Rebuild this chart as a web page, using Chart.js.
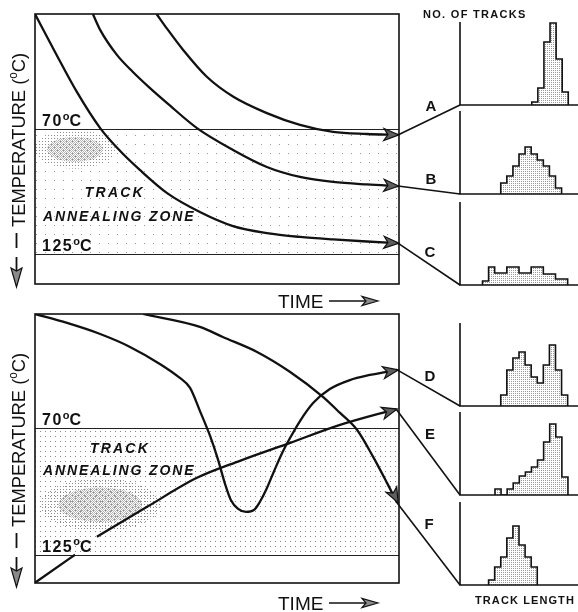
<!DOCTYPE html>
<html lang="en">
<head>
<meta charset="utf-8">
<title>Track annealing zone – thermal paths and track length distributions</title>
<script src="https://cdn.jsdelivr.net/npm/chart.js@4.4.1/dist/chart.umd.min.js"></script>
<style>
  html, body { margin: 0; padding: 0; background: #fff; }
  #fig { position: relative; width: 578px; height: 612px; overflow: hidden; background: #fff; }
  #fig canvas { position: absolute; }
</style>
</head>
<body>
<div id="fig"></div>
<script>
// ── data ───────────────────────────────────────────────────────────
// time runs 0..100 (arbitrary units), temperature in °C grows downwards

const zoneTemps = [70, 125];

// upper panel: three cooling paths, ending at histograms A, B, C
const pathA_time = [33.4, 36.2, 40.7, 47.2, 54.5, 63.7, 72.8, 81.9, 91.2, 99.7];
const pathA_temp = [19.4, 25.7, 35.2, 47.0, 55.8, 63.0, 68.2, 71.3, 72.2, 72.6];
const pathB_time = [15.9, 17.9, 22.5, 26.9, 31.6, 36.3, 44.5, 54.4, 63.7, 72.8, 81.9, 91.2, 99.7];
const pathB_temp = [19.4, 26.4, 37.4, 44.9, 52.0, 58.6, 69.6, 79.2, 86.7, 91.1, 93.3, 94.4, 95.1];
const pathC_time = [0, 5.5, 11.5, 17.9, 23.4, 28.8, 36.3, 45.3, 54.4, 63.7, 72.8, 81.9, 91.2, 99.7];
const pathC_temp = [19.4, 36.1, 53.7, 69.6, 79.7, 88.0, 98.2, 106.5, 112.7, 115.8, 117.5, 118.6, 119.5, 120.2];

// lower panel: reheating / cooling paths, ending at histograms D, E, F
const pathD_time = [0, 8.8, 17.9, 26.1, 34.3, 39.8, 42.6, 45.3, 48.1, 50.3, 52.2, 53.8, 55.8, 58.0,
                    60.2, 61.8, 63.5, 65.7, 67.9, 70.1, 72.8, 76.4, 81.0, 86.5, 92.0, 99.5];
const pathD_temp = [20.4, 24.3, 29.1, 34.7, 42.1, 48.2, 52.5, 62.5, 73.4, 83.8, 94.2, 101.2, 105.1, 106.4,
                    105.5, 102.0, 96.8, 88.6, 80.8, 74.2, 66.9, 59.1, 53.0, 49.1, 46.9, 44.7];
const pathE_time = [0, 11.0, 14.0, 17.0, 30.8, 44.5, 56.3, 70.1, 83.8, 99.2];
const pathE_temp = [137.2, 125.0, null, 117.2, 104.2, 91.6, 84.2, 76.4, 68.6, 61.7];   // gap behind the 125°C label
const pathF_time = [29.7, 45.3, 51.6, 61.0, 70.1, 79.1, 83.8, 88.5, 92.9, 96.7, 99.5];
const pathF_temp = [20.4, 26.0, 30.4, 36.9, 45.6, 56.4, 63.4, 70.8, 82.5, 93.8, 102.5];

// track length histograms: first bin edge (µm), 1 µm bins, number of tracks
const BIN = 1;
const startA = 11.8, countsA = [3, 17, 63, 82, 46, 13];
const startB = 6.7,  countsB = [11, 18, 28, 40, 47, 40, 34, 28, 18, 6];
const startC = 3.7,  countsC = [4, 18, 12, 12, 18, 18, 12, 12, 18, 18, 11, 11, 6, 6];
const startD = 6.7,  countsD = [11, 36, 48, 54, 41, 29, 23, 41, 61, 36, 11];
const startE = 5.75, countsE = [6, 0, 6, 12, 19, 23, 28, 35, 53, 71, 58, 18];
const startF = 4.7,  countsF = [5, 18, 28, 47, 59, 40, 28, 18];

// axis limits
const TIME_MAX = 100;
const topTempRange = [19.4, 138.2];
const botTempRange = [20.4, 137.3];
const LEN_MAX = 19.4;
const COUNT_MAX = 83;

// ── layout ─────────────────────────────────────────────────────────
const FONT = '"Liberation Sans", Arial, Helvetica, sans-serif';
const HIST_LEFT = 460;
const histBase = { A: 105, B: 194, C: 285, D: 406, E: 495, F: 585 };
const letterPos = { A: [431, 107], B: [431, 180], C: [430, 253], D: [430, 377], E: [430, 435], F: [429, 525] };

function addCanvas(left, top, w, h) {
  const c = document.createElement('canvas');
  c.width = w; c.height = h;
  c.style.left = left + 'px'; c.style.top = top + 'px';
  c.style.width = w + 'px'; c.style.height = h + 'px';
  document.getElementById('fig').appendChild(c);
  return c;
}

function dots(step, color, checker) {
  const c = document.createElement('canvas');
  c.width = step; c.height = step;
  const g = c.getContext('2d');
  g.fillStyle = color;
  g.fillRect(0, 0, 1, 1);
  if (checker) g.fillRect(1, 1, 1, 1);
  return g.createPattern(c, 'repeat');
}

function spaced(ctx, str, x, y, gap) {
  for (const ch of str) {
    ctx.fillText(ch, x, y);
    x += ctx.measureText(ch).width + gap;
  }
  return x;
}

function degLabel(ctx, num, x, y) {
  ctx.font = `bold 16px ${FONT}`;
  x = spaced(ctx, num, x, y, 1.5);
  ctx.font = `bold 11px ${FONT}`;
  ctx.fillText('o', x, y - 6.5);
  x += ctx.measureText('o').width;
  ctx.font = `bold 16px ${FONT}`;
  ctx.fillText('C', x, y);
}

function head(ctx, x, y, ang, len, half, notch, fill) {
  const ux = Math.cos(ang), uy = Math.sin(ang);
  const nx = -uy, ny = ux;
  ctx.beginPath();
  ctx.moveTo(x, y);
  ctx.lineTo(x - len * ux + half * nx, y - len * uy + half * ny);
  ctx.lineTo(x - (len - notch) * ux, y - (len - notch) * uy);
  ctx.lineTo(x - len * ux - half * nx, y - len * uy - half * ny);
  ctx.closePath();
  ctx.fillStyle = fill || '#5e5e5e';
  ctx.fill();
  ctx.lineWidth = 1.2;
  ctx.strokeStyle = '#111';
  ctx.stroke();
}

function toPoints(ts, temps) {
  return ts.map((t, i) => ({ x: t, y: temps[i] }));
}

function histPoints(start, counts) {
  const pts = [{ x: start, y: 0 }];
  counts.forEach((c, i) => pts.push({ x: start + i * BIN, y: c }));
  pts.push({ x: start + counts.length * BIN, y: 0 });
  return pts;
}

// ── main panels ────────────────────────────────────────────────────
function panelDeco(cfg) {
  return {
    id: 'panelDeco',
    beforeDatasetsDraw(chart) {
      const { ctx, chartArea: a, scales: { x, y } } = chart;
      const y70 = y.getPixelForValue(zoneTemps[0]);
      const y125 = y.getPixelForValue(zoneTemps[1]);
      ctx.save();
      ctx.beginPath();
      ctx.rect(a.left, y70, a.width, y125 - y70);
      ctx.clip();
      ctx.fillStyle = dots(cfg.zoneStep, cfg.zoneColor);
      ctx.fillRect(a.left, y70, a.width, y125 - y70);
      cfg.patches.forEach(p => {
        const cx = x.getPixelForValue(p.t), cy = y.getPixelForValue(p.T);
        const rx = Math.abs(x.getPixelForValue(p.t + p.rt) - cx);
        const ry = Math.abs(y.getPixelForValue(p.T + p.rT) - cy);
        ctx.beginPath();
        ctx.ellipse(cx, cy, rx, ry, 0, 0, Math.PI * 2);
        ctx.fillStyle = dots(3, '#8a8a8a');
        ctx.fill();
        ctx.beginPath();
        ctx.ellipse(cx, cy, rx * 0.7, ry * 0.65, 0, 0, Math.PI * 2);
        ctx.fillStyle = dots(2, '#b4b4b4', true);
        ctx.fill();
      });
      ctx.restore();

      ctx.save();
      ctx.strokeStyle = '#222';
      ctx.lineWidth = 1;
      [y70, y125].forEach(py => {
        ctx.beginPath();
        ctx.moveTo(a.left, Math.round(py) + 0.5);
        ctx.lineTo(a.right, Math.round(py) + 0.5);
        ctx.stroke();
      });
      ctx.fillStyle = '#111';
      ctx.textBaseline = 'alphabetic';
      degLabel(ctx, '70', a.left + 7, y70 - 3);
      degLabel(ctx, '125', a.left + 7, y125 - 3);

      ctx.font = `italic bold 14px ${FONT}`;
      spaced(ctx, 'TRACK', x.getPixelForValue(cfg.track[0]), y.getPixelForValue(cfg.track[1]) + 5, 2.2);
      spaced(ctx, 'ANNEALING ZONE', x.getPixelForValue(cfg.zone[0]), y.getPixelForValue(cfg.zone[1]) + 5, 1.9);
      ctx.restore();
    },
    afterDatasetsDraw(chart) {
      const { ctx, chartArea: a } = chart;
      ctx.save();
      ctx.strokeStyle = '#111';
      ctx.lineWidth = 1.6;
      ctx.strokeRect(a.left, a.top, a.width, a.height);

      // arrowheads, leaders to the histograms, and letters
      cfg.arrows.forEach(ar => {
        const pts = chart.getDatasetMeta(ar.ds).data.filter(p => !p.skip);
        const tip = pts[pts.length - 1];
        let bx = tip.cp1x, by = tip.cp1y;
        if (bx === undefined || Math.hypot(tip.x - bx, tip.y - by) < 0.5) {
          bx = pts[pts.length - 2].x; by = pts[pts.length - 2].y;
        }
        ctx.strokeStyle = '#111';
        ctx.lineWidth = 1.6;
        ctx.beginPath();
        ctx.moveTo(tip.x, tip.y);
        ctx.lineTo(HIST_LEFT, histBase[ar.key] - cfg.offsetY);
        ctx.stroke();
        head(ctx, tip.x + 1, tip.y, Math.atan2(tip.y - by, tip.x - bx), 15, 6, 4);
        ctx.fillStyle = '#111';
        ctx.font = `bold 15px ${FONT}`;
        ctx.textAlign = 'center';
        ctx.textBaseline = 'middle';
        ctx.fillText(ar.key, letterPos[ar.key][0], letterPos[ar.key][1] - cfg.offsetY);
      });

      // TIME axis label
      ctx.textAlign = 'left';
      ctx.textBaseline = 'alphabetic';
      ctx.fillStyle = '#111';
      ctx.font = `19px ${FONT}`;
      const ty = a.bottom + cfg.timeDy;
      ctx.fillText('TIME', 278, ty);
      ctx.strokeStyle = '#111';
      ctx.lineWidth = 1.6;
      ctx.beginPath();
      ctx.moveTo(329, ty - 7);
      ctx.lineTo(366, ty - 7);
      ctx.stroke();
      head(ctx, 378, ty - 7, 0, 16, 4.5, 4, '#8a8a8a');

      // temperature axis label, read upwards, with a downward arrow
      ctx.save();
      ctx.translate(25, a.top + 213);
      ctx.rotate(-Math.PI / 2);
      ctx.fillStyle = '#111';
      ctx.font = `19px ${FONT}`;
      const w1 = ctx.measureText('TEMPERATURE (').width;
      ctx.font = `12px ${FONT}`;
      const w2 = ctx.measureText('o').width;
      ctx.font = `19px ${FONT}`;
      const w3 = ctx.measureText('C)').width;
      ctx.scale(174 / (w1 + w2 + w3), 1);
      ctx.fillText('TEMPERATURE (', 0, 0);
      ctx.font = `12px ${FONT}`;
      ctx.fillText('o', w1, -8);
      ctx.font = `19px ${FONT}`;
      ctx.fillText('C)', w1 + w2, 0);
      ctx.restore();
      ctx.strokeStyle = '#111';
      ctx.lineWidth = 1.8;
      ctx.beginPath();
      ctx.moveTo(16.5, a.top + 219);
      ctx.lineTo(16.5, a.top + 234);
      ctx.moveTo(16.5, a.top + 243);
      ctx.lineTo(16.5, a.top + 257);
      ctx.stroke();
      head(ctx, 16.5, a.top + 273, Math.PI / 2, 19, 5.5, 3, '#8a8a8a');

      // histogram axis captions
      ctx.fillStyle = '#111';
      ctx.font = `bold 11px ${FONT}`;
      cfg.captions.forEach(c => spaced(ctx, c.text, c.x, c.y - cfg.offsetY, c.gap));
      ctx.restore();
    }
  };
}

function mainChart(top, h, padTop, padBottom, range, datasets, cfg) {
  const canvas = addCanvas(0, top, 578, h);
  return new Chart(canvas, {
    type: 'line',
    data: {
      datasets: datasets.map(d => ({
        data: d,
        borderColor: '#111',
        borderWidth: 2.3,
        pointRadius: 0,
        fill: false,
        spanGaps: false,
        cubicInterpolationMode: 'monotone',
      })),
    },
    options: {
      responsive: false,
      animation: false,
      events: [],
      layout: { padding: { left: 35, right: 578 - 399, top: padTop, bottom: padBottom } },
      plugins: { legend: { display: false }, tooltip: { enabled: false } },
      scales: {
        x: { type: 'linear', min: 0, max: TIME_MAX, display: false },
        y: { type: 'linear', min: range[0], max: range[1], reverse: true, display: false },
      },
    },
    plugins: [panelDeco(cfg)],
  });
}

mainChart(0, 314, 14, 30, topTempRange,
  [toPoints(pathA_time, pathA_temp), toPoints(pathB_time, pathB_temp), toPoints(pathC_time, pathC_temp)],
  {
    offsetY: 0, zoneStep: 9, zoneColor: '#9a9a9a', timeDy: 24,
    patches: [{ t: 11, T: 79, rt: 11, rT: 8.5 }],
    track: [13.7, 97.7], zone: [2.2, 108.3],
    arrows: [{ ds: 0, key: 'A' }, { ds: 1, key: 'B' }, { ds: 2, key: 'C' }],
    captions: [{ text: 'NO. OF TRACKS', x: 423, y: 18, gap: 1.3 }],
  });

mainChart(306, 306, 8, 29, botTempRange,
  [toPoints(pathD_time, pathD_temp), toPoints(pathE_time, pathE_temp), toPoints(pathF_time, pathF_temp)],
  {
    offsetY: 306, zoneStep: 5, zoneColor: '#8a8a8a', timeDy: 27,
    patches: [{ t: 17.9, T: 103.3, rt: 16.5, rT: 11.5 }],
    track: [15.1, 78.6], zone: [2.2, 88.1],
    arrows: [{ ds: 0, key: 'D' }, { ds: 1, key: 'E' }, { ds: 2, key: 'F' }],
    captions: [{ text: 'TRACK LENGTH', x: 475, y: 604, gap: 1.1 }],
  });

// ── histograms ─────────────────────────────────────────────────────
const histAxes = {
  id: 'histAxes',
  afterDraw(chart) {
    const { ctx, chartArea: a } = chart;
    ctx.save();
    ctx.strokeStyle = '#111';
    ctx.lineWidth = 1.6;
    ctx.beginPath();
    ctx.moveTo(a.left, a.top);
    ctx.lineTo(a.left, a.bottom);
    ctx.lineTo(chart.width, a.bottom);
    ctx.stroke();
    ctx.restore();
  }
};

const histFill = dots(2, '#999');

function histChart(key, start, counts) {
  const base = histBase[key];
  const canvas = addCanvas(HIST_LEFT - 5, base - COUNT_MAX - 2, 578 - HIST_LEFT + 5, COUNT_MAX + 4);
  return new Chart(canvas, {
    type: 'line',
    data: {
      datasets: [{
        data: histPoints(start, counts),
        stepped: true,
        fill: 'origin',
        backgroundColor: histFill,
        borderColor: '#111',
        borderWidth: 1.6,
        pointRadius: 0,
      }],
    },
    options: {
      responsive: false,
      animation: false,
      events: [],
      layout: { padding: { left: 5, right: 0, top: 2, bottom: 2 } },
      plugins: { legend: { display: false }, tooltip: { enabled: false } },
      scales: {
        x: { type: 'linear', min: 0, max: LEN_MAX, display: false },
        y: { min: 0, max: COUNT_MAX, display: false },
      },
    },
    plugins: [histAxes],
  });
}

histChart('A', startA, countsA);
histChart('B', startB, countsB);
histChart('C', startC, countsC);
histChart('D', startD, countsD);
histChart('E', startE, countsE);
histChart('F', startF, countsF);
</script>
</body>
</html>
